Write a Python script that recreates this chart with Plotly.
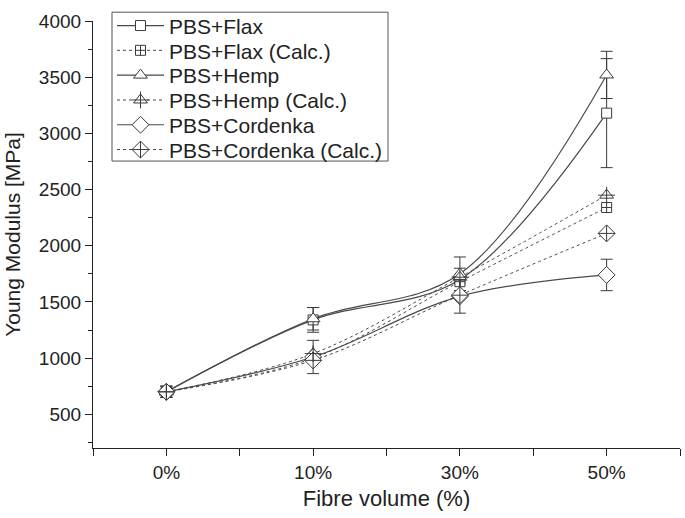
import plotly.graph_objects as go

categories = ["0%", "10%", "30%", "50%"]
x_pos = [0, 1, 2, 3]

flax = [700, 1340, 1700, 3180]
flax_err = [50, 110, 100, 485]
flax_calc = [700, 1000, 1680, 2340]

hemp = [700, 1350, 1750, 3520]
hemp_err = [50, 100, 150, 210]
hemp_calc = [700, 1040, 1720, 2450]

cord = [700, 1010, 1550, 1740]
cord_err = [50, 148, 150, 140]
cord_calc = [700, 980, 1560, 2110]

y_ticks = [500, 1000, 1500, 2000, 2500, 3000, 3500, 4000]

DARK = "#3a3a3a"
LINE = "#4a4a4a"
FONT = "Liberation Sans, Arial, sans-serif"

# figure geometry (pixels)
W, H = 685, 518
ML, MR, MT, MB = 93, 5, 12, 70
PW, PH = W - ML - MR, H - MT - MB


def px_x(x):
    return (x - ML) / PW


def px_y(y):
    return (H - MB - y) / PH


fig = go.Figure()

legend_ids = ["legend", "legend2", "legend3", "legend4", "legend5", "legend6"]


def add(name, y, symbol, size, dash, idx, err=None):
    fig.add_trace(go.Scatter(
        x=x_pos, y=y, name=name, mode="lines+markers",
        line=dict(color=LINE, width=1.2 if dash == "solid" else 1.0,
                  dash=dash, shape="spline", smoothing=1.0),
        marker=dict(symbol=symbol, size=size, color="white",
                    line=dict(color=DARK, width=1)),
        error_y=(dict(type="data", array=err, visible=True, color=DARK,
                      thickness=1, width=6) if err is not None else None),
        legend=legend_ids[idx],
    ))


add("PBS+Flax", flax, "square", 10, "solid", 0, flax_err)
add("PBS+Flax (Calc.)", flax_calc, "square-cross", 10, "dot", 1)
add("PBS+Hemp", hemp, "triangle-up", 12, "solid", 2, hemp_err)
add("PBS+Hemp (Calc.)", hemp_calc, "triangle-up", 12, "dot", 3)
add("PBS+Cordenka", cord, "diamond", 13, "solid", 4, cord_err)
add("PBS+Cordenka (Calc.)", cord_calc, "diamond-cross", 13, "dot", 5)

# cross overlay inside the calculated hemp triangles (also overlaid in the legend)
fig.add_trace(go.Scatter(
    x=x_pos, y=hemp_calc, mode="markers", name=" ", hoverinfo="skip",
    marker=dict(symbol="cross-thin-open", size=12, color=DARK,
                line=dict(color=DARK, width=1)),
    legend="legend7",
))

row_px = [17, 42.3, 67.6, 93, 118.3, 143.6]
legend_layout = {}
for lid, ry in zip(legend_ids, row_px):
    legend_layout[lid] = dict(
        x=px_x(112), y=px_y(ry), xanchor="left", yanchor="middle",
        bgcolor="rgba(0,0,0,0)", borderwidth=0,
        font=dict(family=FONT, size=21, color="#222"),
        itemwidth=47,
    )
legend_layout["legend7"] = dict(legend_layout["legend4"])

fig.update_layout(
    width=W, height=H,
    margin=dict(l=ML, r=MR, t=MT, b=MB),
    paper_bgcolor="white", plot_bgcolor="white",
    font=dict(family=FONT, size=19, color="#222"),
    showlegend=True,
    **legend_layout,
    shapes=[dict(
        type="rect", xref="paper", yref="paper",
        x0=px_x(112), x1=px_x(388), y0=px_y(155), y1=px_y(3),
        line=dict(color="#555", width=1), fillcolor="white", layer="above",
    )],
    xaxis=dict(
        range=[-0.5, 3.5], tickmode="array", tickvals=x_pos, ticktext=categories,
        showline=True, linecolor="#222", linewidth=1.2,
        ticks="outside", ticklen=7, tickcolor="#222",
        minor=dict(ticks="outside", ticklen=7, tick0=-0.5, dtick=1, tickcolor="#222"),
        showgrid=False, zeroline=False, automargin=False,
        title=dict(text="Fibre volume (%)", font=dict(size=22), standoff=8),
        tickfont=dict(size=19),
    ),
    yaxis=dict(
        range=[200, 4000], tickmode="array", tickvals=y_ticks,
        showline=True, linecolor="#222", linewidth=1.2,
        ticks="outside", ticklen=7, tickcolor="#222",
        minor=dict(ticks="outside", ticklen=4, tick0=250, dtick=250, tickcolor="#222"),
        showgrid=False, zeroline=False, automargin=False,
        title=dict(text="Young Modulus [MPa]", font=dict(size=21), standoff=12),
        tickfont=dict(size=19),
    ),
)

fig.write_html("out.html", config={"displayModeBar": False},
               post_script="document.body.style.margin='0';")
